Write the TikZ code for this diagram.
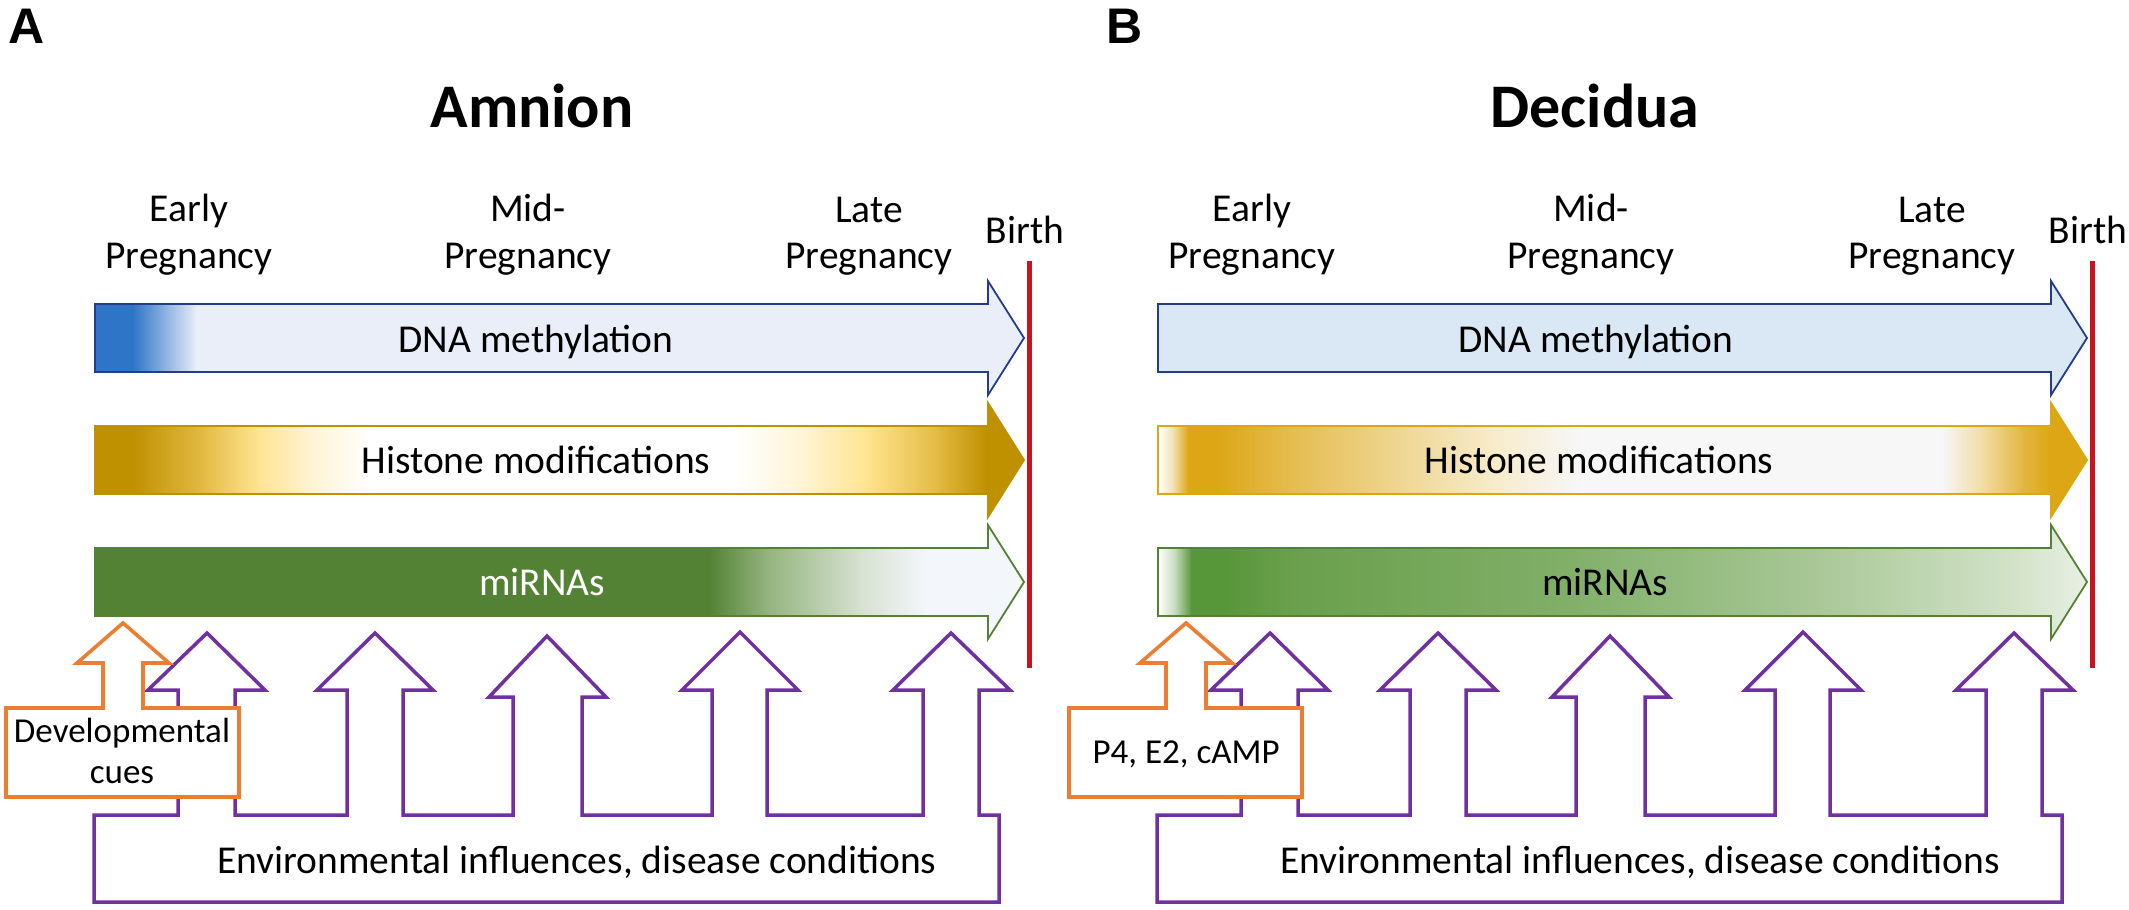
\documentclass[tikz,border=0pt]{standalone}
\usepackage{fontspec}
\setmainfont{Carlito}
\newfontfamily\panelfont{Liberation Sans}
\begin{document}
\definecolor{dnaBlue}{RGB}{46,117,200}
\definecolor{dnaLight}{RGB}{233,238,248}
\definecolor{dnaLightB}{RGB}{218,232,246}
\definecolor{dnaEdge}{RGB}{35,60,140}
\definecolor{goldA}{RGB}{191,144,0}
\definecolor{goldM}{RGB}{228,188,70}
\definecolor{yelL}{RGB}{255,228,145}
\definecolor{yelW}{RGB}{255,243,210}
\definecolor{goldB}{RGB}{220,166,20}
\definecolor{grA}{RGB}{84,130,53}
\definecolor{grM}{RGB}{150,182,130}
\definecolor{grL}{RGB}{214,225,208}
\definecolor{miLight}{RGB}{243,246,250}
\definecolor{grB}{RGB}{88,150,58}
\definecolor{grC}{RGB}{106,160,76}
\definecolor{grD}{RGB}{128,175,104}
\definecolor{grE}{RGB}{168,199,150}
\definecolor{grF}{RGB}{210,226,200}
\definecolor{grG}{RGB}{232,240,228}
\definecolor{greyW}{RGB}{247,247,248}
\definecolor{purpleC}{RGB}{112,48,160}
\definecolor{orangeC}{RGB}{237,125,49}
\definecolor{redC}{RGB}{200,20,30}
\def\barpath#1{(95,#1-34) -- (988,#1-34) -- (988,#1-57) -- (1024,#1) -- (988,#1+57) -- (988,#1+34) -- (95,#1+34) -- cycle}
\newcommand{\gradsegs}[2]{\foreach \xa/\ca/\xb/\cb in {#2}{\shade[left color=\ca,right color=\cb] (\xa,#1-60) rectangle ({\xb+0.8},#1+60);}}
\def\purplepath{(94,902) -- (94,815) -- (178,815) -- (178,690) -- (148,690) -- (207,633) -- (265,690) -- (235,690) -- (235,815)
  -- (347,815) -- (347,690) -- (317,690) -- (375,633) -- (433,690) -- (403,690) -- (403,815)
  -- (513,815) -- (513,697) -- (489,697) -- (547,636) -- (606,697) -- (582,697) -- (582,815)
  -- (712,815) -- (712,690) -- (682,690) -- (740,632) -- (798,690) -- (767,690) -- (767,815)
  -- (923,815) -- (923,690) -- (893,690) -- (951,633) -- (1010,690) -- (979,690) -- (979,815)
  -- (999,815) -- (999,902) -- cycle}
\def\orangepath{(6,708) -- (103,708) -- (103,663) -- (77,663) -- (123,623) -- (169,663) -- (143,663) -- (143,708) -- (239,708) -- (239,797) -- (6,797) -- cycle}
\begin{tikzpicture}[x=1bp,y=-1bp,
  lbl/.style={font=\fontsize{39.5bp}{47bp}\selectfont, inner sep=0pt, anchor=base},
  smalltxt/.style={font=\fontsize{35bp}{42bp}\selectfont, inner sep=0pt, anchor=base},
  ttl/.style={font=\fontsize{62bp}{74bp}\selectfont\bfseries, inner sep=0pt, anchor=base},
  plet/.style={font=\panelfont\fontsize{50bp}{60bp}\selectfont\bfseries, inner sep=0pt, anchor=base west},
  purp/.style={draw=purpleC, line width=3.5bp, line join=miter},
  oran/.style={draw=orangeC, fill=white, line width=3.6bp, line join=miter},
  redline/.style={draw=redC, line width=5bp},
  edgeline/.style={line width=1.8bp, line join=miter}]
\fill[white] (0,0) rectangle (2129,910);
\useasboundingbox (0,0) rectangle (2129,910);

% ---------------- Panel A ----------------
\node[plet] (letA) at (8,43) {A};
\node[ttl] (titleA) at (532,127) {Amnion};
\begin{scope}
  \clip \barpath{338};
  \gradsegs{338}{95/dnaBlue/133/dnaBlue, 133/dnaBlue/196/dnaLight, 196/dnaLight/1025/dnaLight}
\end{scope}
\draw[edgeline, draw=dnaEdge] \barpath{338};
\begin{scope}
  \clip \barpath{460};
  \gradsegs{460}{95/goldA/133/goldA, 133/goldA/205/goldM, 205/goldM/258/yelL, 258/yelL/310/yelW, 310/yelW/370/white, 370/white/735/white, 735/white/805/yelW, 805/yelW/865/yelL, 865/yelL/935/goldM, 935/goldM/986/goldA, 986/goldA/1025/goldA}
\end{scope}
\draw[edgeline, draw=goldA] \barpath{460};
\begin{scope}
  \clip \barpath{582};
  \gradsegs{582}{95/grA/709/grA, 709/grA/770/grM, 770/grM/860/grL, 860/grL/925/miLight, 925/miLight/1025/miLight}
\end{scope}
\draw[edgeline, draw=grA] \barpath{582};
\draw[redline] (1029,261) -- (1029,668);
\draw[purp] \purplepath;
\draw[oran] \orangepath;
\node[lbl] (aEarly1) at (189,221) {Early};
\node[lbl] (aEarly2) at (189,268) {Pregnancy};
\node[lbl] (aMid1) at (528,221) {Mid-};
\node[lbl] (aMid2) at (528,268) {Pregnancy};
\node[lbl] (aLate1) at (869,222) {Late};
\node[lbl] (aLate2) at (869,268) {Pregnancy};
\node[lbl] (aBirth) at (1025,243) {Birth};
\node[lbl] (aDNA) at (536,352) {DNA methylation};
\node[lbl] (aHis) at (536,473) {Histone modifications};
\node[lbl, text=white] (aMir) at (542,595) {miRNAs};
\node[lbl] (aEnv) at (577,873) {Environmental influences, disease conditions};
\node[smalltxt] (aDev1) at (122,742) {Developmental};
\node[smalltxt] (aDev2) at (122,783) {cues};

% ---------------- Panel B ----------------
\node[plet] (letB) at (1106,43) {B};
\begin{scope}[xshift=1063bp]
\node[ttl] (titleB) at (532,127) {Decidua};
\fill[dnaLightB] \barpath{338};
\draw[edgeline, draw=dnaEdge] \barpath{338};
\begin{scope}
  \clip \barpath{460};
  \gradsegs{460}{95/white/110/goldB!35!white, 110/goldB!35!white/125/goldB, 125/goldB/152/goldB, 152/goldB/228/goldB!75!white, 228/goldB!75!white/330/goldB!48!white, 330/goldB!48!white/432/goldB!22!white, 432/goldB!22!white/520/greyW, 520/greyW/878/greyW, 878/greyW/920/goldB!40!white, 920/goldB!40!white/960/goldB!82!white, 960/goldB!82!white/987/goldB, 987/goldB/1025/goldB}
\end{scope}
\draw[edgeline, draw=goldB] \barpath{460};
\begin{scope}
  \clip \barpath{582};
  \gradsegs{582}{95/white/112/grB!35!white, 112/grB!35!white/128/grB, 128/grB/160/grB, 160/grB/230/grC, 230/grC/500/grD, 500/grD/750/grE, 750/grE/950/grF, 950/grF/1025/grG}
\end{scope}
\draw[edgeline, draw=grA] \barpath{582};
\draw[redline] (1029,261) -- (1029,668);
\draw[purp] \purplepath;
\draw[oran] \orangepath;
\node[lbl] (bEarly1) at (189,221) {Early};
\node[lbl] (bEarly2) at (189,268) {Pregnancy};
\node[lbl] (bMid1) at (528,221) {Mid-};
\node[lbl] (bMid2) at (528,268) {Pregnancy};
\node[lbl] (bLate1) at (869,222) {Late};
\node[lbl] (bLate2) at (869,268) {Pregnancy};
\node[lbl] (bBirth) at (1025,243) {Birth};
\node[lbl] (bDNA) at (533,352) {DNA methylation};
\node[lbl] (bHis) at (536,473) {Histone modifications};
\node[lbl] (bMir) at (542,595) {miRNAs};
\node[lbl] (bEnv) at (577,873) {Environmental influences, disease conditions};
\node[smalltxt] (bP4) at (123,763) {P4, E2, cAMP};
\end{scope}
\end{tikzpicture}
\end{document}
